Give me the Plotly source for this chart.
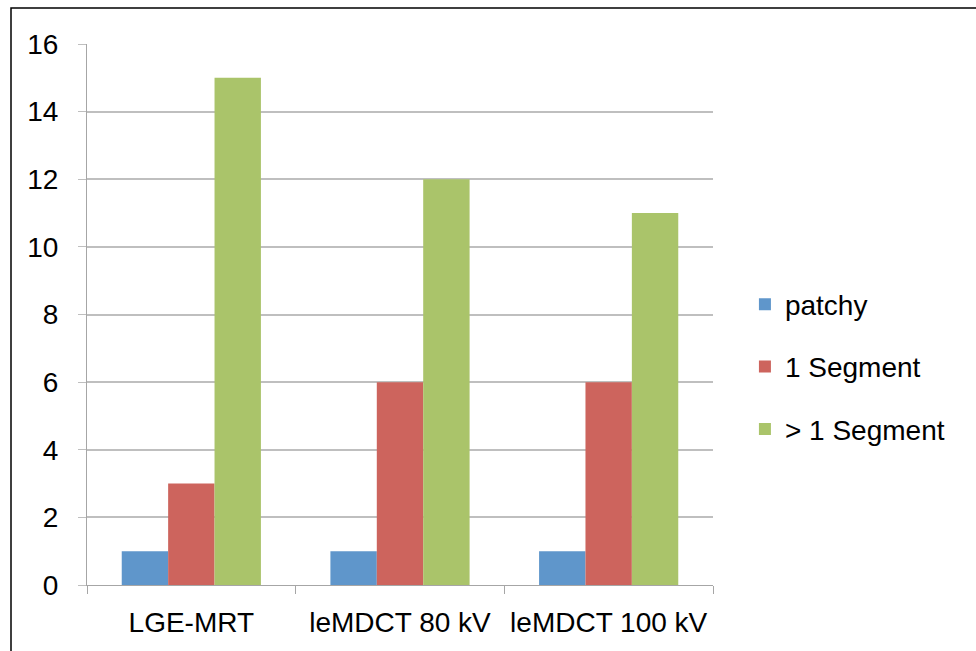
import plotly.graph_objects as go

categories = ["LGE-MRT", "leMDCT 80 kV", "leMDCT 100 kV"]
patchy = [1, 1, 1]
one_segment = [3, 6, 6]
multi_segment = [15, 12, 11]
series_names = ["patchy", "1 Segment", "> 1 Segment"]
colors = ["#5f96cb", "#cd645d", "#aac46a"]

fig = go.Figure()
for i, (name, vals, col) in enumerate(zip(series_names, [patchy, one_segment, multi_segment], colors)):
    fig.add_trace(go.Bar(x=categories, y=vals, name=name, marker_color=col,
                         marker_line_width=0, legendgroup=f"g{i}"))

FONT = "Liberation Sans, Arial, sans-serif"
FS = 28
fig.update_layout(
    width=976, height=651,
    margin=dict(l=87, r=263, t=44, b=66),
    paper_bgcolor="white", plot_bgcolor="white",
    font=dict(family=FONT, size=FS, color="black"),
    barmode="group", bargap=0.333, bargroupgap=0,
    showlegend=True,
    legend=dict(x=1.051, y=0.403, xanchor="left", yanchor="middle",
                traceorder="grouped", tracegroupgap=23,
                font=dict(family=FONT, size=FS, color="black"),
                bgcolor="rgba(0,0,0,0)", itemwidth=30),
    xaxis=dict(showgrid=False, showline=True, linecolor="#a6a6a6", linewidth=1,
               ticks="outside", tickson="boundaries", ticklen=8, tickcolor="#a6a6a6",
               ticklabelstandoff=12, tickfont=dict(size=FS)),
    yaxis=dict(range=[0, 16], dtick=2, showgrid=True, gridcolor="#bfbfbf", gridwidth=1.5,
               showline=True, linecolor="#a6a6a6", linewidth=1, zeroline=False,
               ticks="outside", ticklen=8, tickcolor="#bfbfbf",
               ticklabelstandoff=14, tickfont=dict(size=FS)),
    shapes=[dict(type="rect", xref="paper", yref="paper",
                 x0=(11 - 87) / 626, x1=1.6, y0=-0.3, y1=(585 - 8) / 541,
                 line=dict(color="black", width=1.5), fillcolor="rgba(0,0,0,0)", layer="below")],
)

fig.write_html("out.html", config={"displayModeBar": False},
               post_script="document.body.style.margin='0';")
